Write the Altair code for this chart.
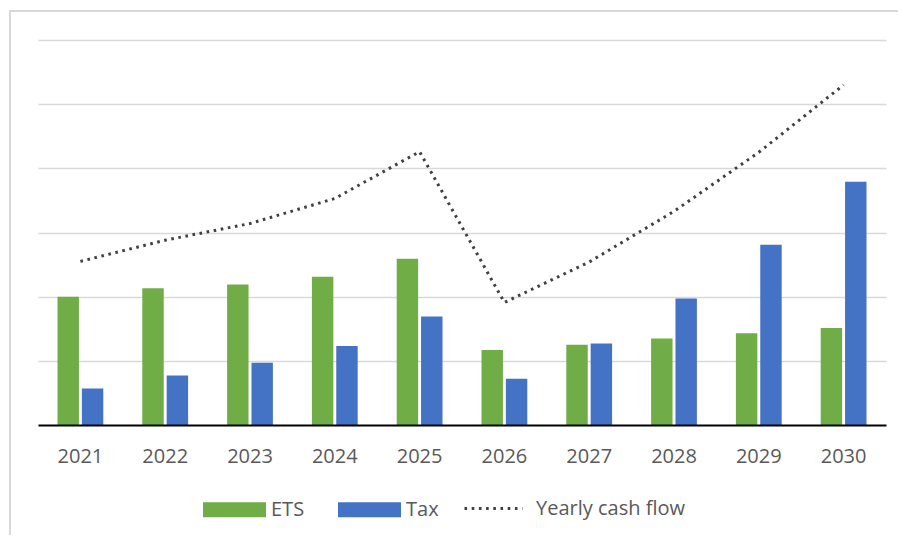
import altair as alt
import pandas as pd

years = ["2021", "2022", "2023", "2024", "2025", "2026", "2027", "2028", "2029", "2030"]
ets = [2.00, 2.13, 2.19, 2.31, 2.59, 1.17, 1.25, 1.35, 1.43, 1.51]
tax = [0.57, 0.77, 0.97, 1.23, 1.69, 0.72, 1.27, 1.97, 2.81, 3.79]
cash = [2.55, 2.88, 3.14, 3.53, 4.26, 1.91, 2.54, 3.33, 4.25, 5.30]
series = ["ETS", "Tax"]
line_name = "Yearly cash flow"
grid_values = [1, 2, 3, 4, 5, 6]

FONT = "Open Sans"
TXT = "#595959"

bars_df = pd.DataFrame(
    [{"year": y, "series": "ETS", "value": v} for y, v in zip(years, ets)]
    + [{"year": y, "series": "Tax", "value": v} for y, v in zip(years, tax)]
)
line_df = pd.DataFrame({"year": years, "value": cash, "series": [line_name] * len(years)})

x_enc = alt.X(
    "year:N",
    sort=years,
    scale=alt.Scale(paddingInner=0.46, paddingOuter=0.23),
    axis=alt.Axis(
        title=None, labelAngle=0, ticks=False, grid=False,
        domainColor="#000000", domainWidth=2, zindex=1,
        labelFont=FONT, labelFontSize=20, labelColor=TXT, labelPadding=21,
    ),
)
y_enc = alt.Y(
    "value:Q",
    scale=alt.Scale(domain=[0, 6], nice=False),
    axis=alt.Axis(
        title=None, labels=False, ticks=False, domain=False, grid=True,
        values=grid_values, gridColor="#d9d9d9", gridWidth=1.6,
    ),
)

bars = alt.Chart(bars_df).mark_bar().encode(
    x=x_enc,
    xOffset=alt.XOffset("series:N", sort=series, scale=alt.Scale(paddingInner=0.12, paddingOuter=0)),
    y=y_enc,
    color=alt.Color(
        "series:N",
        scale=alt.Scale(domain=series, range=["#70AD47", "#4472C4"]),
        legend=alt.Legend(
            title=None, orient="none", direction="horizontal",
            legendX=165, legendY=438,
            symbolType="M-1,-0.238H1V0.238H-1Z", symbolSize=3969,
            symbolStrokeWidth=0, symbolOpacity=1,
            labelFont=FONT, labelFontSize=20, labelColor=TXT,
            labelOffset=5, columnPadding=33, padding=0,
        ),
    ),
)

line = alt.Chart(line_df).mark_line(
    color="#404040", strokeWidth=3
).encode(
    x=alt.X("year:N", sort=years),
    y=alt.Y("value:Q"),
    strokeDash=alt.StrokeDash(
        "series:N",
        scale=alt.Scale(domain=[line_name], range=[[2.6, 4.6]]),
        legend=alt.Legend(
            title=None, orient="none", direction="horizontal",
            legendX=425, legendY=438,
            symbolType="stroke", symbolSize=3364,
            symbolStrokeWidth=3, symbolStrokeColor="#404040",
            labelFont=FONT, labelFontSize=20, labelColor=TXT,
            labelOffset=12, padding=0,
        ),
    ),
)

frame_df = pd.DataFrame({"k": [0]})
frame = alt.Chart(frame_df).mark_rect(
    fill="transparent", stroke="#d9d9d9", strokeWidth=2
).encode(
    x=alt.value(-28), x2=alt.value(900), y=alt.value(-29), y2=alt.value(520)
)

chart = (
    alt.layer(frame, bars, line)
    .resolve_scale(strokeDash="independent")
    .properties(
        width=848, height=385,
        background="white",
        autosize=alt.AutoSizeParams(type="none"),
        padding={"left": 30, "top": 32, "right": 12, "bottom": 110},
    )
    .configure_view(strokeWidth=0, stroke="transparent")
)

chart.save("out.html", embed_options={"renderer": "svg", "actions": False})
